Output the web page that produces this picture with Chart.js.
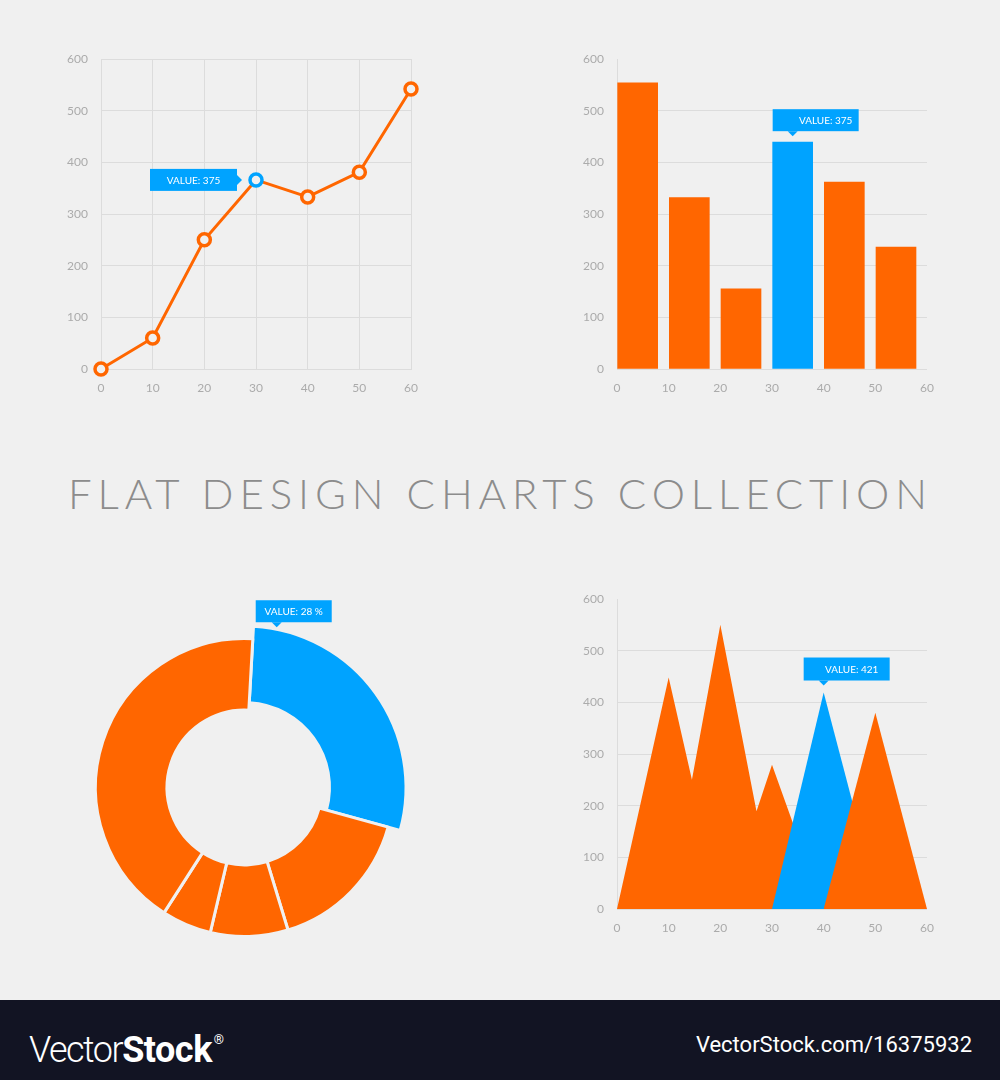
<!DOCTYPE html>
<html>
<head>
<meta charset="utf-8">
<script src="https://cdn.jsdelivr.net/npm/chart.js@4.4.1/dist/chart.umd.min.js"></script>
<style>
    html, body { margin: 0; padding: 0; }
    body { width: 1000px; height: 1080px; background: #f0f0f0; position: relative; overflow: hidden; font-family: Lato, sans-serif; }
    .box { position: absolute; }
    #title { position: absolute; left: 68px; top: 472px; font-size: 42px; line-height: 42px; font-weight: 300; color: #8c8c8c; white-space: nowrap; }
    #footer { position: absolute; left: 0; top: 1000px; width: 1000px; height: 80px; background: #121423; color: #fff; font-family: "Liberation Sans Narrow", "Roboto", sans-serif; }
    #logo { position: absolute; left: 29px; top: 18px; font-size: 36px; line-height: 44px; letter-spacing: -0.5px; }
    #logo .thin { font-family: Roboto, sans-serif; font-weight: 300; letter-spacing: -1.5px; }
    #logo b { font-weight: bold; }
    #logo sup { font-size: 13px; vertical-align: 18px; margin-left: 2px; }
    #site { position: absolute; right: 28px; top: 32px; font-size: 22px; line-height: 26px; }
</style>
</head>
<body>
<div class="box" style="left:40px;top:30px;width:400px;height:390px"><canvas id="lineChart"></canvas></div>
<div class="box" style="left:560px;top:30px;width:420px;height:390px"><canvas id="barChart"></canvas></div>
<div id="title"><span id="titleText">FLAT DESIGN CHARTS COLLECTION</span></div>
<div class="box" style="left:44px;top:587px;width:401px;height:401px"><canvas id="donutChart"></canvas></div>
<div class="box" style="left:560px;top:570px;width:420px;height:390px"><canvas id="peakChart"></canvas></div>
<div id="footer">
    <div id="logo"><span class="thin">Vector</span><b>Stock</b><sup>®</sup></div>
    <div id="site">VectorStock.com/16375932</div>
</div>

<script>
// dados do gráfico de linha (canto superior esquerdo)
const lineX = [0, 10, 20, 30, 40, 50, 60];
const lineY = [0, 60, 250, 366, 333, 381, 542];
const lineHighlight = 3;

// dados do gráfico de barras
const barX = [0, 10, 20, 30, 40, 50];
const barY = [554, 332, 155, 439, 362, 236];
const barHighlight = 3;
const barShift = 4; // barras começam no traço, não ficam centradas

// dados do donut (percentagens)
const donutLabels = ['A', 'B', 'C', 'D', 'E'];
const donutValues = [28.4, 16.0, 8.4, 5.4, 41.8];
const donutHighlight = 0;

// dados do gráfico de picos
const peaksAX = [0, 10, 14.5, 20, 27, 30, 40];
const peaksAY = [0, 448, 250, 550, 189, 279, 0];
const peaksBX = [30, 40, 51];
const peaksBY = [0, 419, 0];
const peaksCX = [40, 50, 60];
const peaksCY = [0, 380, 0];

// eixos
const xMin = 0, xMax = 60, xStep = 10;
const yMin = 0, yMax = 600, yStep = 100;

const ORANGE = '#ff6600';
const BLUE = '#00a3ff';
const BG = '#f0f0f0';
const GRID = '#dcdcdc';

Chart.defaults.font.family = 'Lato';
Chart.defaults.font.size = 12;
Chart.defaults.color = '#ababab';
Chart.defaults.animation = false;
Chart.defaults.plugins.legend.display = false;
Chart.defaults.plugins.tooltip.enabled = false;

// caixinha azul "VALUE: ..."
const calloutPlugin = {
    id: 'callout',
    afterDatasetsDraw(chart, args, opts) {
        const el = chart.getDatasetMeta(opts.dataset).data[opts.index];
        let ax = el.x, ay = el.y;
        if (opts.arc) {
            const a = el.startAngle + opts.arc;
            ax = el.x + Math.cos(a) * el.outerRadius;
            ay = el.y + Math.sin(a) * el.outerRadius;
        }
        const ctx = chart.ctx;
        const left = ax + opts.dx, top = ay + opts.dy;
        ctx.save();
        ctx.fillStyle = BLUE;
        ctx.fillRect(left, top, opts.w, opts.h);
        ctx.beginPath();
        if (opts.side === 'left') {
            const r = left + opts.w;
            ctx.moveTo(r, ay - 5);
            ctx.lineTo(r + 5, ay);
            ctx.lineTo(r, ay + 5);
        } else {
            const b = top + opts.h;
            ctx.moveTo(ax - 5, b);
            ctx.lineTo(ax, b + 5);
            ctx.lineTo(ax + 5, b);
        }
        ctx.closePath();
        ctx.fill();
        ctx.fillStyle = '#ffffff';
        ctx.font = '10px Lato';
        ctx.textAlign = 'center';
        ctx.textBaseline = 'middle';
        ctx.fillText(opts.text, left + opts.w / 2 + (opts.textDx || 0), top + opts.h / 2 + 1);
        ctx.restore();
    }
};

// fatia destacada fica maior que as outras
const popPlugin = {
    id: 'pop',
    afterDatasetUpdate(chart, args, opts) {
        const el = args.meta.data[opts.index];
        if (!el) return;
        el.outerRadius += opts.outer;
        el.innerRadius += opts.inner;
    }
};

function xAxis(withGrid) {
    return {
        type: 'linear', min: xMin, max: xMax, offset: false,
        ticks: { stepSize: xStep, padding: 12 },
        grid: { display: withGrid, color: GRID, drawTicks: false },
        border: { display: withGrid, color: GRID },
        afterFit: s => { s.height = 35; }
    };
}

function yAxis(yWidth, hideTop) {
    return {
        min: yMin, max: yMax,
        ticks: { stepSize: yStep, padding: 13 },
        grid: {
            color: c => (hideTop && c.tick && c.tick.value === yMax) ? 'rgba(0,0,0,0)' : GRID,
            drawTicks: false
        },
        border: { display: true, color: GRID },
        afterFit: s => { s.width = yWidth; }
    };
}

// gráfico de linha
new Chart(document.getElementById('lineChart'), {
    type: 'line',
    data: {
        datasets: [{
            data: lineX.map((x, i) => ({ x: x, y: lineY[i] })),
            borderColor: ORANGE,
            borderWidth: 3,
            tension: 0,
            clip: false,
            pointRadius: 6,
            pointBorderWidth: 3.5,
            pointBackgroundColor: BG,
            pointBorderColor: lineX.map((x, i) => i === lineHighlight ? BLUE : ORANGE)
        }]
    },
    options: {
        responsive: true,
        maintainAspectRatio: false,
        layout: { padding: { top: 29, right: 29, bottom: 16, left: 0 } },
        scales: { x: xAxis(true), y: yAxis(61, false) },
        plugins: {
            callout: { dataset: 0, index: lineHighlight, text: 'VALUE: 375', side: 'left', dx: -106, dy: -11, w: 87, h: 22 }
        }
    },
    plugins: [calloutPlugin]
});

// gráfico de barras
new Chart(document.getElementById('barChart'), {
    type: 'bar',
    data: {
        datasets: [{
            data: barX.map((x, i) => ({ x: x + barShift, y: barY[i] })),
            backgroundColor: barX.map((x, i) => i === barHighlight ? BLUE : ORANGE),
            barThickness: 40
        }]
    },
    options: {
        responsive: true,
        maintainAspectRatio: false,
        layout: { padding: { top: 29, right: 53, bottom: 16, left: 0 } },
        scales: { x: xAxis(false), y: yAxis(57, true) },
        plugins: {
            callout: { dataset: 0, index: barHighlight, text: 'VALUE: 375', side: 'top', dx: -20, dy: -33, w: 86, h: 22, textDx: 10 }
        }
    },
    plugins: [calloutPlugin]
});

// donut
new Chart(document.getElementById('donutChart'), {
    type: 'doughnut',
    data: {
        labels: donutLabels,
        datasets: [{
            data: donutValues,
            backgroundColor: donutValues.map((v, i) => i === donutHighlight ? BLUE : ORANGE),
            borderColor: BG,
            borderWidth: 3
        }]
    },
    options: {
        responsive: true,
        maintainAspectRatio: false,
        radius: 149,
        cutout: '52%',
        rotation: 3.2,
        plugins: {
            pop: { index: donutHighlight, outer: 12.5, inner: 7.5 },
            callout: { dataset: 0, index: donutHighlight, arc: 0.145, text: 'VALUE: 28 %', side: 'top', dx: -21, dy: -29, w: 76, h: 22 }
        }
    },
    plugins: [popPlugin, calloutPlugin]
});

// gráfico de picos
function peakSet(xs, ys, color, order) {
    return {
        data: xs.map((x, i) => ({ x: x, y: ys[i] })),
        backgroundColor: color,
        borderWidth: 0,
        pointRadius: 0,
        tension: 0,
        fill: 'origin',
        order: order
    };
}

new Chart(document.getElementById('peakChart'), {
    type: 'line',
    data: {
        datasets: [
            peakSet(peaksAX, peaksAY, ORANGE, 3),
            peakSet(peaksBX, peaksBY, BLUE, 2),
            peakSet(peaksCX, peaksCY, ORANGE, 1)
        ]
    },
    options: {
        responsive: true,
        maintainAspectRatio: false,
        layout: { padding: { top: 29, right: 53, bottom: 16, left: 0 } },
        scales: { x: xAxis(false), y: yAxis(57, true) },
        plugins: {
            callout: { dataset: 1, index: 1, text: 'VALUE: 421', side: 'top', dx: -20, dy: -35, w: 86, h: 23, textDx: 5 }
        }
    },
    plugins: [calloutPlugin]
});

// ajusta o espaçamento do título para ocupar a largura do original
function fitTitle() {
    const span = document.getElementById('titleText');
    const target = 859;
    const n = span.textContent.length;
    span.style.letterSpacing = '0px';
    const w = span.getBoundingClientRect().width;
    span.style.letterSpacing = ((target - w) / (n - 1)) + 'px';
}
fitTitle();
</script>
</body>
</html>
